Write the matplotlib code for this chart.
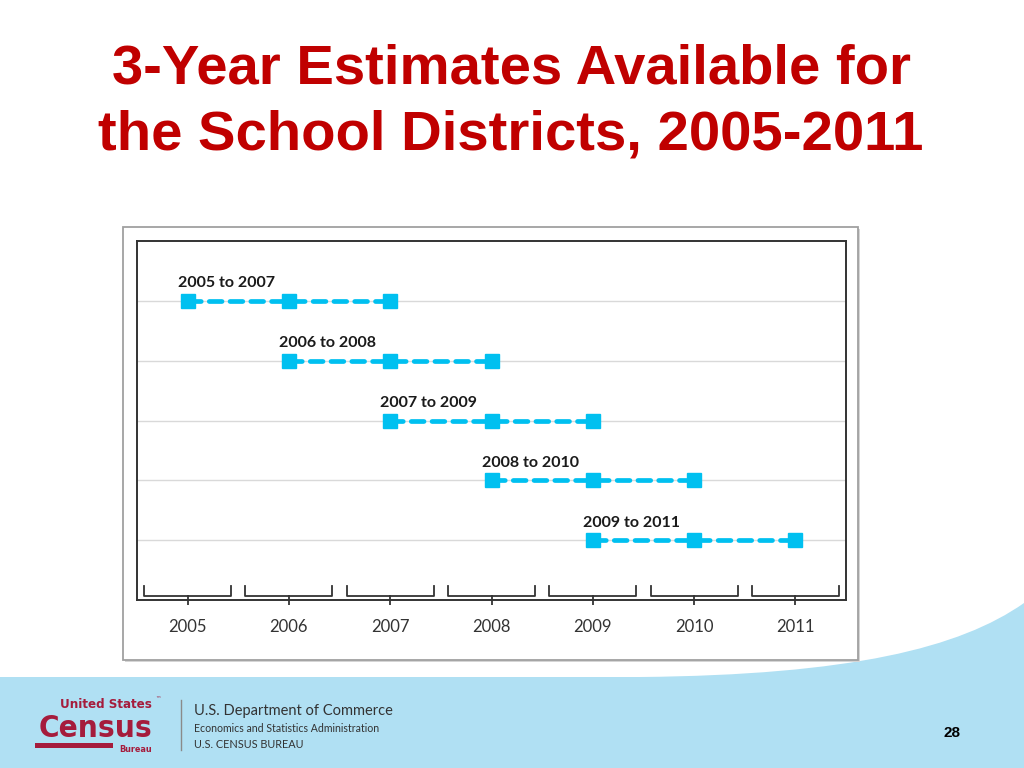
import matplotlib
matplotlib.use("Agg")
import matplotlib.pyplot as plt
from matplotlib.patches import Rectangle, PathPatch
from matplotlib.path import Path

# data
years = [2005, 2006, 2007, 2008, 2009, 2010, 2011]
start_years = [2005, 2006, 2007, 2008, 2009]
span_labels = ["2005 to 2007", "2006 to 2008", "2007 to 2009", "2008 to 2010", "2009 to 2011"]
rows = [5, 4, 3, 2, 1]
span_len = 3

title_lines = ["3-Year Estimates Available for", "the School Districts, 2005-2011"]
page_number = "28"

CYAN = "#00C0F0"
RED = "#C00000"
LOGO_RED = "#A51C3C"
BAND = "#B0E0F3"

W, H = 1024, 768
fig = plt.figure(figsize=(W / 100, H / 100), dpi=100)
fig.patch.set_facecolor("white")


def fig_rect(x0, y0, x1, y1):
    # pixel box (top-left origin) -> figure fraction
    return [x0 / W, 1 - y1 / H, (x1 - x0) / W, (y1 - y0) / H]


# background layer in pixel coordinates
bg = fig.add_axes([0, 0, 1, 1], zorder=0)
bg.set_xlim(0, W)
bg.set_ylim(H, 0)
bg.axis("off")

# footer band with swoosh on the right
verts = [(0, 677), (640, 677), (850, 675), (960, 648), (1024, 603),
         (1024, 768), (0, 768), (0, 677)]
codes = [Path.MOVETO, Path.LINETO, Path.CURVE4, Path.CURVE4, Path.CURVE4,
         Path.LINETO, Path.LINETO, Path.CLOSEPOLY]
bg.add_patch(PathPatch(Path(verts, codes), facecolor=BAND, edgecolor="none"))

# chart frame with a soft shadow
bg.add_patch(Rectangle((125, 229), 735, 433, facecolor="#D5D5D5", edgecolor="none"))
bg.add_patch(Rectangle((123, 227), 735, 433, facecolor="white", edgecolor="#A0A0A0", lw=1.3))

# title
for i, line in enumerate(title_lines):
    bg.text(511, 84 + 66 * i, line, ha="center", va="baseline", fontsize=40.5,
            fontweight="bold", color=RED, family="Liberation Sans")

# census logo
logo_font = dict(color=LOGO_RED, fontweight="bold", family="DejaVu Sans",
                 fontstretch="condensed")
bg.text(106, 704, "United States", ha="center", va="center", fontsize=9.5, **logo_font)
bg.text(155, 699, "™", ha="left", va="center", fontsize=4, color=LOGO_RED)
bg.text(95, 737, "Census", ha="center", va="baseline", fontsize=22.5, **logo_font)
bg.add_patch(Rectangle((35, 743), 78, 5, facecolor=LOGO_RED, edgecolor="none"))
bg.text(136, 750, "Bureau", ha="center", va="center", fontsize=6.5, **logo_font)
bg.plot([181, 181], [700, 750], color="#8A8A8A", lw=1)
bg.text(194, 711, "U.S. Department of Commerce", ha="left", va="center", fontsize=10.5,
        color="#333333", family="Lato")
bg.text(194, 728, "Economics and Statistics Administration", ha="left", va="center",
        fontsize=7.6, color="#333333", family="Lato")
bg.text(194, 745, "U.S. CENSUS BUREAU", ha="left", va="center", fontsize=7.8,
        color="#333333", family="Lato")
bg.text(952, 733, page_number, ha="center", va="center", fontsize=11,
        fontweight="bold", color="black", family="Liberation Sans")

# chart
ax = fig.add_axes(fig_rect(137, 241, 846, 600), zorder=2)
ax.set_xlim(2004.5, 2011.5)
ax.set_ylim(0, 6)

for r in rows:
    ax.axhline(r, color="#D9D9D9", lw=1, zorder=1)

for start, r, lab in zip(start_years, rows, span_labels):
    xs = [start + k for k in range(span_len)]
    ax.plot(xs, [r] * span_len, color=CYAN, lw=3.4, ls=(0, (2.7, 1.7)),
            dash_capstyle="round", marker="s", ms=10, zorder=3)
    ax.annotate(lab, (start, r), xytext=(-7, 12.5), textcoords="offset points",
                ha="left", va="center", fontsize=11.5, fontweight="bold",
                color="#1A1A1A", family="Lato")

# bracket under each year
for yr in years:
    ax.plot([yr - 0.43, yr - 0.43, yr + 0.43, yr + 0.43],
            [0.234, 0.067, 0.067, 0.234], color="#333333", lw=1.3, zorder=2)

ax.set_xticks(years)
ax.set_xticklabels([str(y) for y in years], fontsize=12, color="#333333", family="Lato")
ax.tick_params(axis="x", direction="inout", length=7, width=1.3, color="#333333", pad=10)
ax.set_yticks([])
for sp in ax.spines.values():
    sp.set_color("#333333")
    sp.set_linewidth(1.4)

fig.savefig("out.png", dpi=100)
